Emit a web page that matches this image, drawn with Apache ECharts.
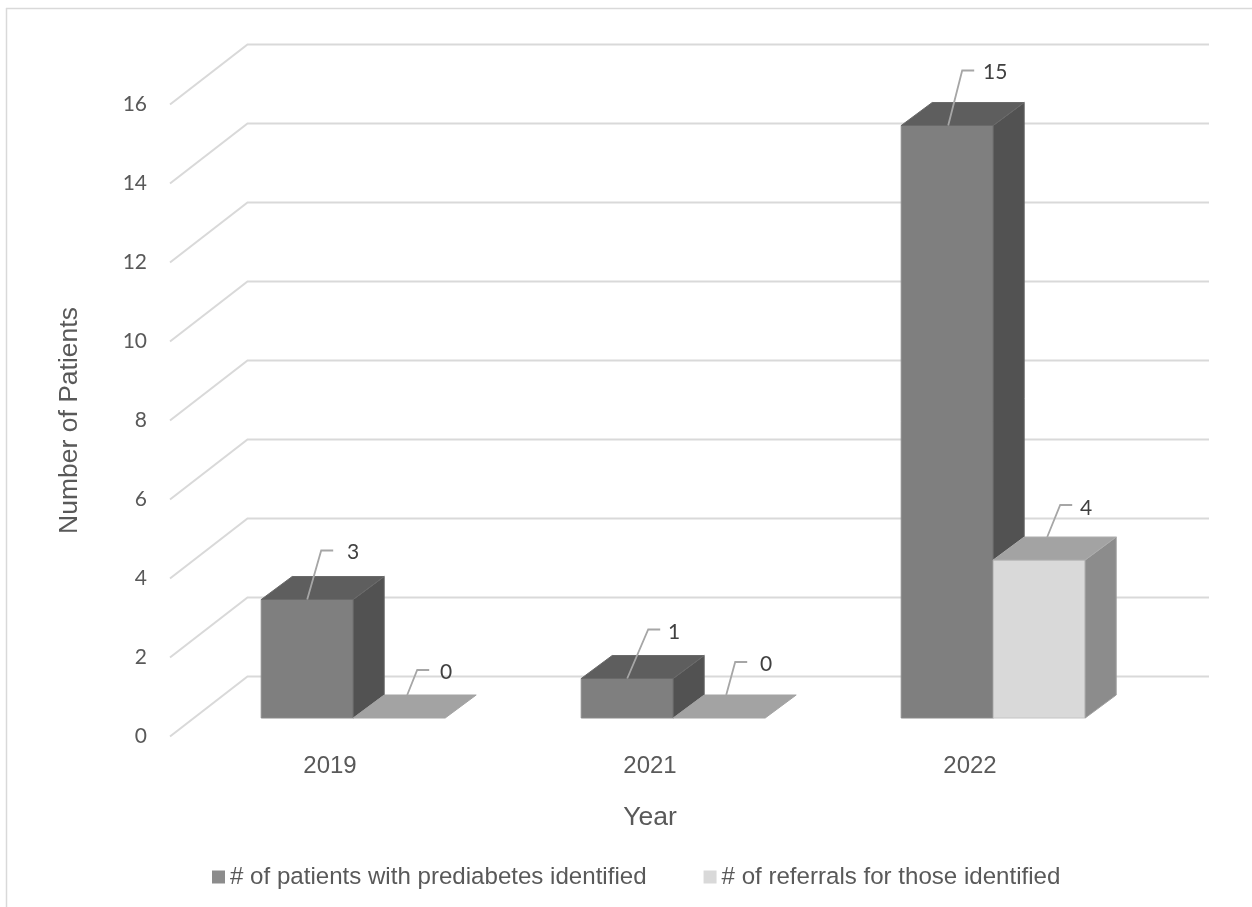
<!DOCTYPE html>
<html>
<head>
<meta charset="utf-8">
<style>html,body{margin:0;padding:0;background:#fff}#chart{width:1252px;height:907px}</style>
<script src="https://cdn.jsdelivr.net/npm/echarts@6/dist/echarts.min.js"></script>
</head>
<body>
<div id="chart"></div>
<script>
const years = ['2019', '2021', '2022'];
const prediabetesIdentified = [3, 1, 15];
const referralsMade = [0, 0, 4];
const yTicks = [0, 2, 4, 6, 8, 10, 12, 14, 16];

const seriesNames = ['# of patients with prediabetes identified', '# of referrals for those identified'];

// Oblique projection: how far the back wall and the bars recede from the front plane.
const WALL_DX = 77.5, WALL_DY = -60, WALL_OVERHANG = 1.5;
const BAR_LIFT_X = 23.2, BAR_LIFT_Y = -18.5;
const BAR_DEPTH_X = 31, BAR_DEPTH_Y = -23;
const BAR_BAND_SHARE = 0.2875;

// Leader line of each value label: [x shift along the bar top, elbow dx, elbow rise, label dx, label dy].
const leaders = [
  [[46, 14, 49, 32, 2], [54, 10, 25, 29, 2]],
  [[46, 21, 49, 26, 3], [53, 9, 33, 31, 2]],
  [[47, 14, 55, 33, 2], [54, 13, 32, 26, 3]]
];

const faces = [
  { front: '#7f7f7f', side: '#525252', top: '#5e5e5e', frontEdge: '#8b8b8b', sideEdge: '#666666', topEdge: '#6a6a6a' },
  { front: '#d9d9d9', side: '#8c8c8c', top: '#a3a3a3', frontEdge: '#c4c4c4', sideEdge: '#a0a0a0', topEdge: '#adadad' }
];

function polygon(points, fill, edge) {
  return { type: 'polygon', shape: { points }, style: { fill, stroke: edge, lineWidth: 1 } };
}

function renderWallLine(params, api) {
  const band = api.size([1, 0])[0];
  const p = api.coord([0, api.value(0)]);
  const left = p[0] - band / 2;
  const right = left + band * years.length + WALL_OVERHANG;
  return {
    type: 'polyline',
    shape: { points: [[left, p[1]], [left + WALL_DX, p[1] + WALL_DY], [right + WALL_DX, p[1] + WALL_DY]] },
    style: { stroke: '#d9d9d9', lineWidth: 2, fill: 'none' }
  };
}

function barRenderer(seriesIndex) {
  return function (params, api) {
    const cat = api.value(0);
    const val = api.value(1);
    const band = api.size([1, 0])[0];
    const width = band * BAR_BAND_SHARE;
    const top = api.coord([cat, val]);
    const base = api.coord([cat, 0]);
    const x0 = top[0] + BAR_LIFT_X + (seriesIndex - 1) * width;
    const x1 = x0 + width;
    const yTop = top[1] + BAR_LIFT_Y;
    const yBase = base[1] + BAR_LIFT_Y;
    const c = faces[seriesIndex];
    const children = [];
    if (val > 0) {
      children.push(polygon([[x0, yTop], [x1, yTop], [x1, yBase], [x0, yBase]], c.front, c.frontEdge));
      children.push(polygon([[x1, yTop], [x1 + BAR_DEPTH_X, yTop + BAR_DEPTH_Y], [x1 + BAR_DEPTH_X, yBase + BAR_DEPTH_Y], [x1, yBase]], c.side, c.sideEdge));
    }
    children.push(polygon([[x0, yTop], [x0 + BAR_DEPTH_X, yTop + BAR_DEPTH_Y], [x1 + BAR_DEPTH_X, yTop + BAR_DEPTH_Y], [x1, yTop]], c.top, val > 0 ? c.topEdge : c.top));

    const [shift, elbowDx, rise, labelDx, labelDy] = leaders[cat][seriesIndex];
    // Leaders of the first series start on the front edge of the bar top, the second on its back edge.
    const ax = x0 + shift;
    const ay = seriesIndex === 0 ? yTop : yTop + BAR_DEPTH_Y;
    const ex = ax + elbowDx;
    const ey = ay - rise;
    children.push({
      type: 'polyline',
      shape: { points: [[ax, ay], [ex, ey], [ex + 12, ey]] },
      style: { stroke: '#a6a6a6', lineWidth: 1.8, fill: 'none' }
    });
    children.push({
      type: 'text',
      style: {
        x: ex + labelDx, y: ey + labelDy,
        text: String(val),
        fill: '#404040',
        font: '21px Lato',
        textAlign: 'center', textVerticalAlign: 'middle'
      }
    });
    return { type: 'group', children };
  };
}

const chart = echarts.init(document.getElementById('chart'), null, { renderer: 'canvas' });
chart.setOption({
  animation: false,
  backgroundColor: '#fff',
  textStyle: { fontFamily: '"Liberation Sans", Arial, sans-serif' },
  grid: { left: 170, right: 122, top: 104.5, bottom: 170.5 },
  xAxis: {
    type: 'category',
    data: years,
    name: 'Year',
    nameLocation: 'middle',
    nameGap: 68,
    nameTextStyle: { fontSize: 26.5, color: '#595959', fontFamily: '"Liberation Sans"' },
    axisLine: { show: false },
    axisTick: { show: false },
    axisLabel: { margin: 18, fontSize: 24, color: '#595959', fontFamily: '"Liberation Sans"' },
    splitLine: { show: false }
  },
  yAxis: {
    type: 'value',
    min: 0,
    max: 16,
    interval: 2,
    name: 'Number of Patients',
    nameLocation: 'middle',
    nameGap: 87,
    nameRotate: 90,
    nameTextStyle: { fontSize: 26.5, color: '#595959', fontFamily: '"Liberation Sans"' },
    axisLine: { show: false },
    axisTick: { show: false },
    axisLabel: { margin: 23, fontSize: 21, color: '#595959', fontFamily: 'Lato' },
    splitLine: { show: false }
  },
  legend: {
    left: 207,
    top: 860,
    icon: 'rect',
    itemWidth: 13,
    itemHeight: 13,
    itemGap: 57,
    textStyle: { fontSize: 24.1, color: '#595959', fontFamily: '"Liberation Sans"' },
    data: [
      { name: seriesNames[0], itemStyle: { color: '#8c8c8c' } },
      { name: seriesNames[1], itemStyle: { color: '#d9d9d9' } }
    ]
  },
  series: [
    {
      type: 'custom',
      name: 'wall',
      renderItem: renderWallLine,
      data: yTicks.map(t => [t]),
      encode: { y: 0 },
      silent: true
    },
    {
      type: 'custom',
      name: seriesNames[0],
      renderItem: barRenderer(0),
      data: prediabetesIdentified.map((v, i) => [i, v]),
      encode: { x: 0, y: 1 },
      itemStyle: { color: '#8c8c8c' }
    },
    {
      type: 'custom',
      name: seriesNames[1],
      renderItem: barRenderer(1),
      data: referralsMade.map((v, i) => [i, v]),
      encode: { x: 0, y: 1 },
      itemStyle: { color: '#d9d9d9' }
    }
  ],
  graphic: [
    { type: 'line', shape: { x1: 6, y1: 8.5, x2: 1252, y2: 8.5 }, style: { stroke: '#d9d9d9', lineWidth: 1.5 } },
    { type: 'line', shape: { x1: 6.5, y1: 8, x2: 6.5, y2: 907 }, style: { stroke: '#d9d9d9', lineWidth: 1.5 } }
  ]
});
</script>
</body>
</html>
